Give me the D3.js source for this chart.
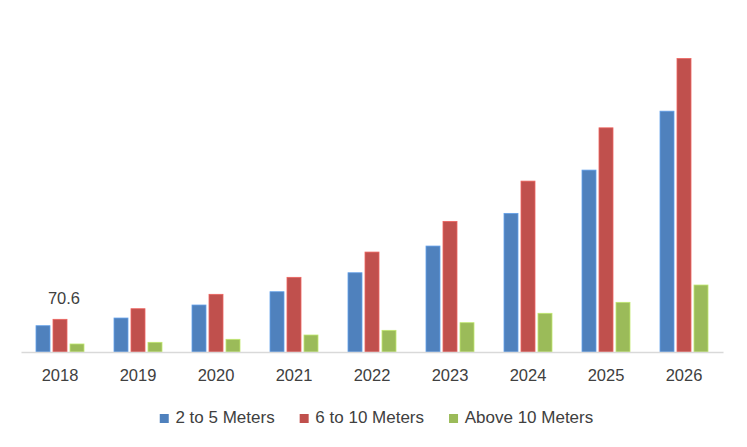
<!DOCTYPE html>
<html>
<head>
<meta charset="utf-8">
<script src="https://cdn.jsdelivr.net/npm/d3@7"></script>
<style>
  html, body { margin: 0; padding: 0; background: #ffffff; }
  svg { display: block; }
  text { font-family: "Liberation Sans", Arial, sans-serif; fill: #404040; }
</style>
</head>
<body>
<svg id="chart" width="747" height="447"></svg>
<script>
const years = ["2018", "2019", "2020", "2021", "2022", "2023", "2024", "2025", "2026"];
const seriesNames = ["2 to 5 Meters", "6 to 10 Meters", "Above 10 Meters"];
const seriesColors = ["#4F81BD", "#C0504D", "#9BBB59"];
const small = [56.8, 73.4, 101.5, 130.2, 171.2, 228.9, 299.5, 393.0, 520.3];
const medium = [70.6, 93.5, 124.6, 161.3, 215.9, 282.2, 369.2, 484.3, 634.1];
const large = [17.3, 20.9, 27.4, 36.7, 46.8, 63.3, 83.6, 107.3, 144.7];
const seriesValues = [small, medium, large];
const labelIndex = { year: 0, series: 1 };

const svg = d3.select("#chart");
const W = 747, H = 447;
const plotLeft = 21, plotRight = 723, baseY = 352, topY = 28;

const x0 = d3.scaleBand().domain(years).range([plotLeft, plotRight]).padding(0);
const groupW = 48;
const x1 = d3.scaleBand().domain(seriesNames).range([0, groupW]).paddingInner(3 / 17).paddingOuter(0);
const y = d3.scaleLinear().domain([0, 700]).range([baseY, topY]);

const rows = years.map((yr, i) => ({
  year: yr,
  vals: seriesNames.map((s, j) => ({ series: s, color: seriesColors[j], value: seriesValues[j][i] }))
}));

const groups = svg.append("g").selectAll("g").data(rows).join("g")
  .attr("transform", d => `translate(${x0(d.year) + (x0.bandwidth() - groupW) / 2},0)`);

groups.selectAll("rect").data(d => d.vals).join("rect")
  .attr("x", d => x1(d.series))
  .attr("y", d => y(d.value))
  .attr("width", x1.bandwidth())
  .attr("height", d => baseY - y(d.value))
  .attr("fill", d => d.color)
  .attr("stroke", d => d3.color(d.color).brighter(0.6))
  .attr("stroke-width", 0.8);

// baseline axis
const xAxis = d3.axisBottom(x0).tickSize(0).tickPadding(17.5);
const ax = svg.append("g").attr("transform", `translate(0,${baseY})`).call(xAxis);
ax.select(".domain").attr("stroke", "#d9d9d9").attr("stroke-width", 1.5);
ax.selectAll("text").attr("font-size", "16.5px").style("font-family", '"Liberation Sans", Arial, sans-serif').attr("fill", "#404040");

// data label
const ly = years[labelIndex.year], ls = seriesNames[labelIndex.series];
const lv = seriesValues[labelIndex.series][labelIndex.year];
svg.append("text")
  .attr("x", x0(ly) + (x0.bandwidth() - groupW) / 2 + x1(ls) + x1.bandwidth() / 2 + 4)
  .attr("y", y(lv) - 15)
  .attr("text-anchor", "middle")
  .attr("font-size", "16.5px")
  .text(lv.toFixed(1));

// legend
const legend = svg.append("g");
const items = legend.selectAll("g").data(seriesNames).join("g");
items.append("rect").attr("width", 9).attr("height", 9).attr("y", -9)
  .attr("fill", (d, i) => seriesColors[i]);
items.append("text").attr("x", 15.7).attr("font-size", "17px").text(d => d);
let cx = 0;
const gap = 25;
items.each(function () {
  const g = d3.select(this);
  const tw = g.select("text").node().getComputedTextLength();
  g.attr("data-x", cx);
  cx += 15.7 + tw + gap;
});
const total = cx - gap;
const startX = 376.5 - total / 2;
items.attr("transform", function () {
  return `translate(${startX + (+d3.select(this).attr("data-x"))},423)`;
});
</script>
</body>
</html>
